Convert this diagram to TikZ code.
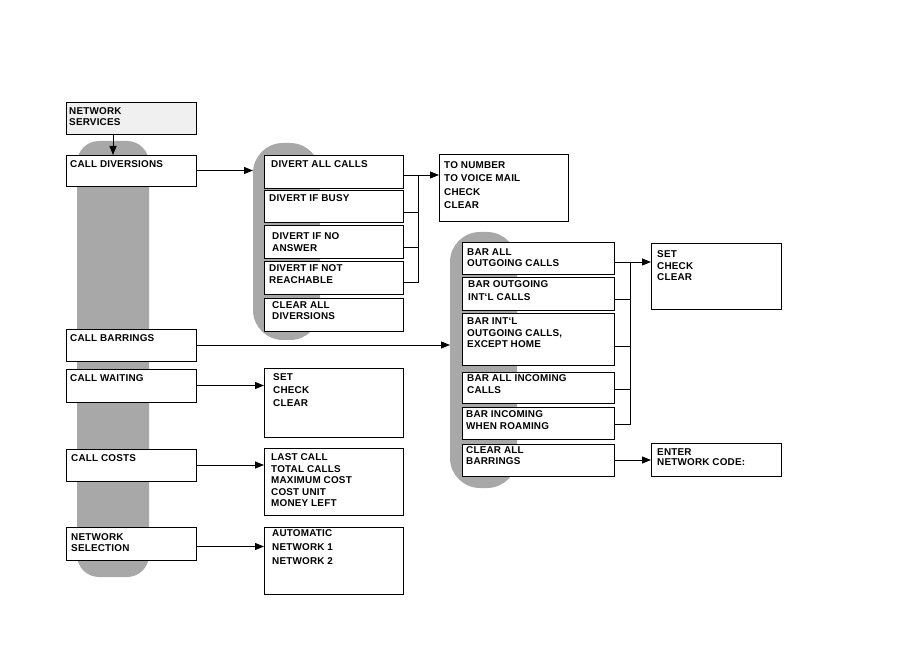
\documentclass[tikz,border=0pt]{standalone}
\usepackage{fontspec}
\setmainfont{Liberation Sans}[LetterSpace=2]
\usetikzlibrary{arrows.meta}
\definecolor{colgray}{HTML}{A8A8A8}
\definecolor{lightfill}{HTML}{F0F0F0}
\newcommand\mkbox[6][]{\node[box,#1,minimum width={#5-#3},minimum height={#6-#4}] (#2) at ({(#3+#5)/2},{(#4+#6)/2}) {};}
\begin{document}
\begin{tikzpicture}[x=1pt,y=-1pt,
  box/.style={draw, line width=0.9pt, fill=white, inner sep=0pt, outer sep=0pt},
  gcol/.style={fill=colgray, draw=none, inner sep=0pt, outer sep=0pt},
  txt/.style={font={\fontsize{9.9}{#1}\selectfont\bfseries}, align=left, anchor=north west, inner sep=0pt, yshift=-1pt},
  txt/.default=11,
  conn/.style={line width=0.8pt},
  arr/.style={line width=0.8pt, -{Triangle[length=9pt,width=7pt]}}
]
\useasboundingbox (0,0) rectangle (908,652);
% gray columns
\node[gcol, rounded corners=22pt, minimum width=72, minimum height=436] (g1) at (113,359) {};
\node[gcol, rounded corners=30pt, minimum width=67, minimum height=197] (g2) at (286.5,241.5) {};
\node[gcol, rounded corners=30pt, minimum width=67, minimum height=256] (g3) at (483.5,360) {};
% left boxes
\mkbox[fill=lightfill]{nsv}{66}{102}{196}{134}
\mkbox{cd}{66}{155}{196}{186}
\mkbox{cb}{66}{329}{196}{361}
\mkbox{cw}{66}{369}{196}{402}
\mkbox{cc}{66}{449}{196}{481}
\mkbox{nsl}{66}{527}{196}{560}
% diversions
\mkbox{dac}{264}{155}{403}{188}
\mkbox{dib}{264}{190}{403}{222}
\mkbox{dna}{264}{225}{403}{258}
\mkbox{dnr}{264}{261}{403}{294}
\mkbox{cad}{264}{298}{403}{331}
\mkbox{tonum}{439}{154}{568}{221}
% barrings
\mkbox{b1}{462}{242}{614}{274}
\mkbox{b2}{462}{277}{614}{310}
\mkbox{b3}{462}{313}{614}{365}
\mkbox{b4}{462}{372}{614}{403}
\mkbox{b5}{462}{407}{614}{439}
\mkbox{b6}{462}{444}{614}{476}
\mkbox{setb}{651}{243}{781}{309}
\mkbox{ent}{651}{443}{781}{476}
% other option boxes
\mkbox{sw}{264}{368}{403}{437}
\mkbox{costs}{264}{448}{403}{515}
\mkbox{auto}{264}{527}{403}{594}
% texts
\node[txt] (nsv-t) at (69,106.5) {NETWORK\\SERVICES};
\node[txt] (cd-t) at (70,159.5) {CALL DIVERSIONS};
\node[txt] (cb-t) at (70,333.5) {CALL BARRINGS};
\node[txt] (cw-t) at (70,373.5) {CALL WAITING};
\node[txt] (cc-t) at (71,453.5) {CALL COSTS};
\node[txt] (nsl-t) at (71,532.5) {NETWORK\\SELECTION};
\node[txt] (dac-t) at (271,159.5) {DIVERT ALL CALLS};
\node[txt] (dib-t) at (269,193.5) {DIVERT IF BUSY};
\node[txt=12] (dna-t) at (272,231.5) {DIVERT IF NO\\ANSWER};
\node[txt=12] (dnr-t) at (269,263.5) {DIVERT IF NOT\\REACHABLE};
\node[txt] (cad-t) at (272,300.5) {CLEAR ALL\\DIVERSIONS};
\node[txt=13.3] (tonum-t) at (444,160.5) {TO NUMBER\\TO VOICE MAIL\\CHECK\\CLEAR};
\node[txt=10.5] (b1-t) at (467,247.5) {BAR ALL\\OUTGOING CALLS};
\node[txt=13] (b2-t) at (468,279.5) {BAR OUTGOING\\INT`L CALLS};
\node[txt=11.5] (b3-t) at (467,316.5) {BAR INT`L\\OUTGOING CALLS,\\EXCEPT HOME};
\node[txt=12] (b4-t) at (467,373) {BAR ALL INCOMING\\CALLS};
\node[txt=11.5] (b5-t) at (466,409.5) {BAR INCOMING\\WHEN ROAMING};
\node[txt] (b6-t) at (466,445.5) {CLEAR ALL\\BARRINGS};
\node[txt=11.5] (setb-t) at (657,249.5) {SET\\CHECK\\CLEAR};
\node[txt=10.5] (ent-t) at (657,447) {ENTER\\NETWORK CODE:};
\node[txt=13] (sw-t) at (273,372.5) {SET\\CHECK\\CLEAR};
\node[txt=11.5] (costs-t) at (271,452.5) {LAST CALL\\TOTAL CALLS\\MAXIMUM COST\\COST UNIT\\MONEY LEFT};
\node[txt=14] (auto-t) at (272,528.5) {AUTOMATIC\\NETWORK 1\\NETWORK 2};
% connectors
\draw[arr] (g1 |- nsv.south) -- (g1 |- cd.north);
\draw[arr] (cd.east) -- (cd.east -| g2.west);
\draw[arr] (cb.east) -- (cb.east -| g3.west);
\draw[arr] (cw.east) -- (cw.east -| sw.west);
\draw[arr] (cc.east) -- (cc.east -| costs.west);
\draw[arr] ([yshift=-3pt]nsl.east) -- ([yshift=-3pt]nsl.east -| auto.west);
% diversion junction
\coordinate (dj) at (418,175);
\draw[conn] ([yshift=-3.5pt]dac.east) -- (dj);
\draw[arr] (dj) -- (dj -| tonum.west);
\draw[conn] ([yshift=-6pt]dib.east) -- ([yshift=-6pt]dib.east -| dj);
\draw[conn] ([yshift=-5.5pt]dna.east) -- ([yshift=-5.5pt]dna.east -| dj);
\draw[conn] (dj) |- ([yshift=-4.5pt]dnr.east);
% barring junction
\coordinate (bj) at (630,262);
\draw[conn] ([yshift=-4pt]b1.east) -- (bj);
\draw[arr] (bj) -- (bj -| setb.west);
\draw[conn] ([yshift=-5.5pt]b2.east) -- ([yshift=-5.5pt]b2.east -| bj);
\draw[conn] ([yshift=-7pt]b3.east) -- ([yshift=-7pt]b3.east -| bj);
\draw[conn] ([yshift=-1.5pt]b4.east) -- ([yshift=-1.5pt]b4.east -| bj);
\draw[conn] (bj) |- ([yshift=-1pt]b5.east);
\draw[arr] (b6.east) -- (b6.east -| ent.west);
\end{tikzpicture}
\end{document}
